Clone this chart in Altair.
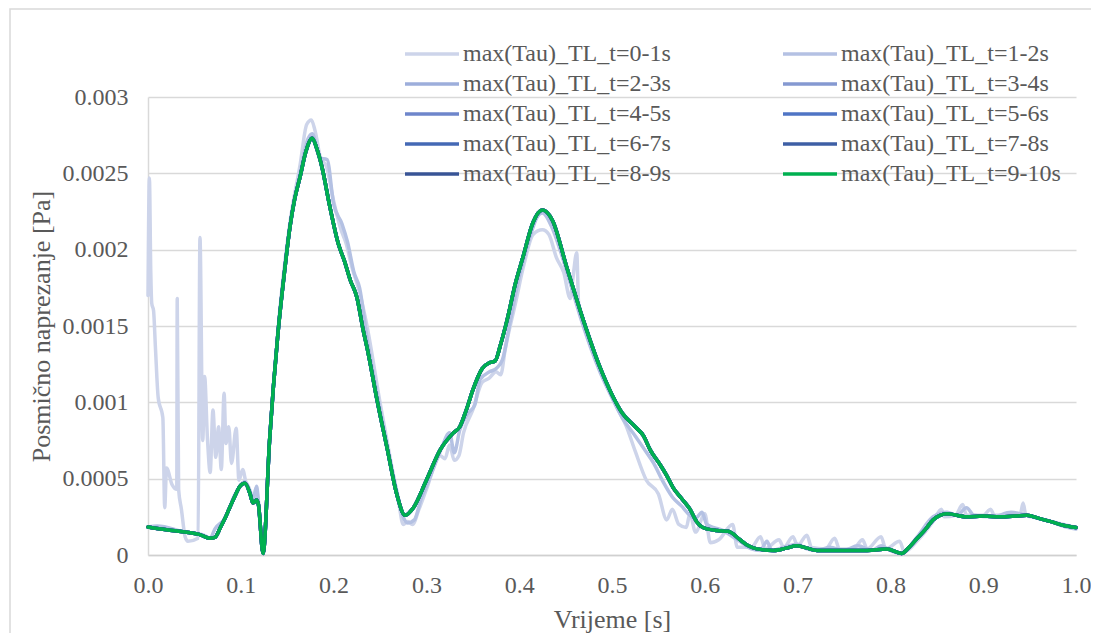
import altair as alt
import pandas as pd

series_names = [
    "max(Tau)_TL_t=0-1s", "max(Tau)_TL_t=1-2s", "max(Tau)_TL_t=2-3s",
    "max(Tau)_TL_t=3-4s", "max(Tau)_TL_t=4-5s", "max(Tau)_TL_t=5-6s",
    "max(Tau)_TL_t=6-7s", "max(Tau)_TL_t=7-8s", "max(Tau)_TL_t=8-9s",
    "max(Tau)_TL_t=9-10s",
]
series_colors = ["#cdd4ea", "#b4c1e3", "#9daedb", "#8599d1", "#6e86cb",
                 "#4f75c5", "#4469b5", "#3e5fa5", "#385496", "#00b050"]
series_widths = [3.5, 3.5, 3.5, 3.5, 3.5, 3.5, 3.5, 3.5, 3.5, 4.5]

# Series t=2-3s ... t=9-10s are visually identical (overlap completely)
t_main = [0.000, 0.020, 0.040, 0.055, 0.067, 0.072, 0.078, 0.083, 0.088, 0.094,
          0.099, 0.1045, 0.110, 0.113, 0.117, 0.119, 0.124, 0.131, 0.140, 0.147,
          0.153, 0.158, 0.164, 0.170, 0.177, 0.182, 0.1875, 0.196, 0.205, 0.212,
          0.218, 0.225, 0.232, 0.236, 0.247, 0.258, 0.268, 0.277, 0.286, 0.300,
          0.315, 0.329, 0.336, 0.343, 0.350, 0.360, 0.368, 0.374, 0.380, 0.387,
          0.396, 0.404, 0.415, 0.425, 0.436, 0.451, 0.469, 0.487, 0.500, 0.511,
          0.525, 0.534, 0.541, 0.552, 0.559, 0.566, 0.575, 0.584, 0.591, 0.598,
          0.613, 0.625, 0.638, 0.647, 0.656, 0.674, 0.688, 0.699, 0.710, 0.721,
          0.750, 0.775, 0.796, 0.812, 0.820, 0.829, 0.838, 0.846, 0.861, 0.882,
          0.900, 0.918, 0.935, 0.947, 0.960, 0.972, 0.986, 1.000]
tau_main = [0.000183, 0.000165, 0.000150, 0.000135, 0.000110, 0.000115, 0.000180, 0.000240, 0.000310, 0.000390,
            0.000450, 0.000470, 0.000400, 0.000340, 0.000360, 0.000330, 0.000010, 0.000750, 0.001450, 0.001850,
            0.002150, 0.002330, 0.002480, 0.002640, 0.002730, 0.002660, 0.002540, 0.002280, 0.002040, 0.001920,
            0.001800, 0.001690, 0.001470, 0.001360, 0.001010, 0.000690, 0.000400, 0.000260, 0.000310, 0.000490,
            0.000690, 0.000800, 0.000840, 0.000950, 0.001080, 0.001220, 0.001260, 0.001270, 0.001380, 0.001540,
            0.001780, 0.001950, 0.002180, 0.002260, 0.002190, 0.001890, 0.001540, 0.001230, 0.001050, 0.000930,
            0.000840, 0.000780, 0.000690, 0.000590, 0.000520, 0.000440, 0.000370, 0.000300, 0.000220, 0.000180,
            0.000160, 0.000155, 0.000100, 0.000060, 0.000040, 0.000030, 0.000045, 0.000060, 0.000045, 0.000030,
            0.000030, 0.000030, 0.000040, 0.000010, 0.000050, 0.000110, 0.000170, 0.000230, 0.000270, 0.000250,
            0.000255, 0.000250, 0.000255, 0.000260, 0.000240, 0.000220, 0.000195, 0.000180]

# Series t=0-1s (start-up transient with spikes)
t_01 = [0.000, 0.0015, 0.003, 0.004, 0.006, 0.008, 0.011, 0.016, 0.018, 0.020,
        0.026, 0.031, 0.0315, 0.033, 0.036, 0.040, 0.043, 0.054, 0.056, 0.059,
        0.061, 0.064, 0.067, 0.070, 0.073, 0.076, 0.079, 0.082, 0.084, 0.087,
        0.090, 0.095, 0.098, 0.102, 0.106, 0.110, 0.113, 0.117, 0.119, 0.124,
        0.131, 0.140, 0.153, 0.164, 0.171, 0.176, 0.180, 0.186, 0.192, 0.200,
        0.208, 0.213, 0.220, 0.228, 0.236, 0.250, 0.262, 0.270, 0.275, 0.280,
        0.285, 0.292, 0.300, 0.315, 0.320, 0.325, 0.330, 0.335, 0.340, 0.350,
        0.360, 0.368, 0.375, 0.380, 0.385, 0.396, 0.405, 0.415, 0.425, 0.432,
        0.440, 0.448, 0.455, 0.458, 0.462, 0.464, 0.475, 0.490, 0.505, 0.515,
        0.525, 0.537, 0.550, 0.559, 0.565, 0.572, 0.580, 0.584, 0.590, 0.600,
        0.606, 0.615, 0.630, 0.635, 0.650, 0.660, 0.665, 0.680, 0.685, 0.695,
        0.700, 0.710, 0.715, 0.730, 0.740, 0.745, 0.760, 0.770, 0.775, 0.790,
        0.795, 0.810, 0.815, 0.830, 0.846, 0.855, 0.858, 0.870, 0.878, 0.882,
        0.900, 0.908, 0.912, 0.940, 0.943, 0.946, 0.960, 0.980, 1.000]
tau_01 = [0.00170, 0.00247, 0.00185, 0.00165, 0.00160, 0.00136, 0.00103, 0.00090, 0.00031, 0.00057,
          0.00046, 0.00043, 0.00168, 0.00043, 0.00030, 0.00012, 0.00009, 0.00011, 0.00208, 0.00075,
          0.00117, 0.00077, 0.00054, 0.00095, 0.00064, 0.00084, 0.00056, 0.00106, 0.00073, 0.00084,
          0.00060, 0.00083, 0.00049, 0.00056, 0.00046, 0.00040, 0.00034, 0.00043, 0.00033, 0.00001,
          0.00075, 0.00147, 0.00218, 0.00256, 0.00282, 0.00285, 0.00278, 0.00260, 0.00255, 0.00232,
          0.00213, 0.00205, 0.00188, 0.00172, 0.00150, 0.00100, 0.00060, 0.00035, 0.00020, 0.00022,
          0.00020, 0.00030, 0.00043, 0.00065, 0.00063, 0.00072, 0.00062, 0.00065, 0.00080, 0.00095,
          0.00113, 0.00116, 0.00120, 0.00118, 0.00135, 0.00165, 0.00190, 0.00210, 0.00213, 0.00210,
          0.00195, 0.00185, 0.00168, 0.00182, 0.00198, 0.00165, 0.00142, 0.00118, 0.00097, 0.00085,
          0.00068, 0.00049, 0.00040, 0.00023, 0.00030, 0.00020, 0.00018, 0.00027, 0.00015, 0.00027,
          0.00008, 0.00010, 0.00020, 0.00005, 0.00005, 0.00012, 0.00004, 0.00010, 0.00005, 0.00012,
          0.00006, 0.00013, 0.00005, 0.00004, 0.00011, 0.00004, 0.00004, 0.00010, 0.00004, 0.00012,
          0.00004, 0.00009, 0.00002, 0.00010, 0.00022, 0.00030, 0.00025, 0.00026, 0.00033, 0.00026,
          0.00026, 0.00030, 0.00026, 0.00027, 0.00034, 0.00026, 0.00024, 0.00021, 0.00018]

# Series t=1-2s (close to the converged curve, slightly noisy)
t_12 = [0.000, 0.010, 0.040, 0.060, 0.067, 0.072, 0.083, 0.094, 0.1045, 0.110,
        0.113, 0.117, 0.119, 0.124, 0.131, 0.140, 0.153, 0.164, 0.172, 0.177,
        0.185, 0.193, 0.200, 0.209, 0.215, 0.222, 0.228, 0.236, 0.247, 0.258,
        0.268, 0.275, 0.280, 0.287, 0.295, 0.300, 0.315, 0.325, 0.330, 0.336,
        0.345, 0.352, 0.358, 0.368, 0.375, 0.382, 0.390, 0.400, 0.410, 0.420,
        0.425, 0.435, 0.445, 0.455, 0.469, 0.487, 0.500, 0.511, 0.525, 0.534,
        0.545, 0.555, 0.565, 0.575, 0.584, 0.590, 0.597, 0.602, 0.610, 0.620,
        0.630, 0.640, 0.650, 0.660, 0.667, 0.672, 0.690, 0.700, 0.710, 0.720,
        0.735, 0.750, 0.765, 0.780, 0.790, 0.800, 0.812, 0.829, 0.846, 0.861,
        0.872, 0.882, 0.890, 0.910, 0.930, 0.947, 0.960, 0.972, 0.986, 1.000]
tau_12 = [0.000183, 0.000190, 0.000150, 0.000130, 0.000110, 0.000170, 0.000240, 0.000400, 0.000480, 0.000420,
          0.000360, 0.000450, 0.000350, 0.000010, 0.000750, 0.001450, 0.002150, 0.002500, 0.002720, 0.002760,
          0.002600, 0.002590, 0.002300, 0.002170, 0.002050, 0.001850, 0.001750, 0.001420, 0.001050, 0.000700,
          0.000420, 0.000250, 0.000210, 0.000230, 0.000380, 0.000450, 0.000680, 0.000800, 0.000670, 0.000820,
          0.000930, 0.000980, 0.001150, 0.001200, 0.001220, 0.001280, 0.001520, 0.001820, 0.002050, 0.002220,
          0.002240, 0.002150, 0.001980, 0.001780, 0.001500, 0.001200, 0.001030, 0.000900, 0.000780, 0.000700,
          0.000600, 0.000480, 0.000380, 0.000320, 0.000260, 0.000240, 0.000280, 0.000200, 0.000180, 0.000160,
          0.000120, 0.000080, 0.000040, 0.000030, 0.000090, 0.000030, 0.000060, 0.000070, 0.000040, 0.000030,
          0.000050, 0.000030, 0.000060, 0.000030, 0.000060, 0.000030, 0.000010, 0.000120, 0.000250, 0.000280,
          0.000260, 0.000310, 0.000260, 0.000250, 0.000280, 0.000260, 0.000240, 0.000220, 0.000190, 0.000170]

rows = []
for t, v in zip(t_01, tau_01):
    rows.append({"t": t, "tau": v, "series": series_names[0]})
for t, v in zip(t_12, tau_12):
    rows.append({"t": t, "tau": v, "series": series_names[1]})
for name in series_names[2:]:
    for t, v in zip(t_main, tau_main):
        rows.append({"t": t, "tau": v, "series": name})
df = pd.DataFrame(rows)

FONT = "Liberation Serif"
GRAY = "#595959"

lines = alt.Chart(df).mark_line(strokeJoin="round", strokeCap="round", interpolate="monotone").encode(
    x=alt.X("t:Q", scale=alt.Scale(domain=[0, 1], nice=False),
            axis=alt.Axis(title="Vrijeme [s]", values=[0, 0.1, 0.2, 0.3, 0.4, 0.5, 0.6, 0.7, 0.8, 0.9, 1.0],
                          format=".1f", grid=False, ticks=False, labelPadding=18, labelFlush=False,
                          labelFont=FONT, labelFontSize=24, labelColor=GRAY,
                          titleFont=FONT, titleFontSize=26, titleFontWeight="normal", titleColor=GRAY,
                          domainColor="#d0d0d0", domainWidth=1.5,
                          titleX=464, titleY=72, titleBaseline="alphabetic", titleAlign="center")),
    y=alt.Y("tau:Q", scale=alt.Scale(domain=[0, 0.003], nice=False),
            axis=alt.Axis(title="Posmično naprezanje [Pa]",
                          values=[0, 0.0005, 0.001, 0.0015, 0.002, 0.0025, 0.003],
                          labelExpr="datum.value == 0 ? '0' : format(datum.value, '~g')",
                          grid=True, gridColor="#d9d9d9", gridWidth=1.5,
                          ticks=False, labelPadding=20, labelFlush=False,
                          labelFont=FONT, labelFontSize=24, labelColor=GRAY,
                          titleFont=FONT, titleFontSize=26, titleFontWeight="normal", titleColor=GRAY,
                          domainColor="#d9d9d9", domainWidth=1.5,
                          titleX=-107, titleY=229, titleAngle=270, titleBaseline="middle", titleAlign="center")),
    color=alt.Color("series:N", scale=alt.Scale(domain=series_names, range=series_colors),
                    sort=series_names,
                    legend=alt.Legend(title=None, orient="none", legendX=255, legendY=-58, columns=2,
                                      direction="horizontal",
                                      symbolType="stroke", symbolSize=2916, symbolStrokeWidth=4,
                                      labelFont=FONT, labelFontSize=24, labelColor=GRAY,
                                      labelOffset=2, labelLimit=400, columnPadding=110, rowPadding=0,
                                      clipHeight=30, padding=0)),
    strokeWidth=alt.StrokeWidth("series:N", scale=alt.Scale(domain=series_names, range=series_widths),
                                legend=None),
    order=alt.Order("t:Q"),
)

frame = alt.Chart(pd.DataFrame({"k": [0]})).mark_rect(
    fillOpacity=0, stroke="#d9d9d9", strokeWidth=1.5
).encode(x=alt.value(-138), x2=alt.value(960), y=alt.value(-88), y2=alt.value(600))

chart = alt.layer(frame, lines).properties(
    width=928, height=458, background="white",
    autosize=alt.AutoSizeParams(type="none"),
    padding={"left": 140, "top": 89, "right": 15, "bottom": 78},
).configure_view(stroke=None)

chart.save("out.html", embed_options={"renderer": "svg", "actions": False})
